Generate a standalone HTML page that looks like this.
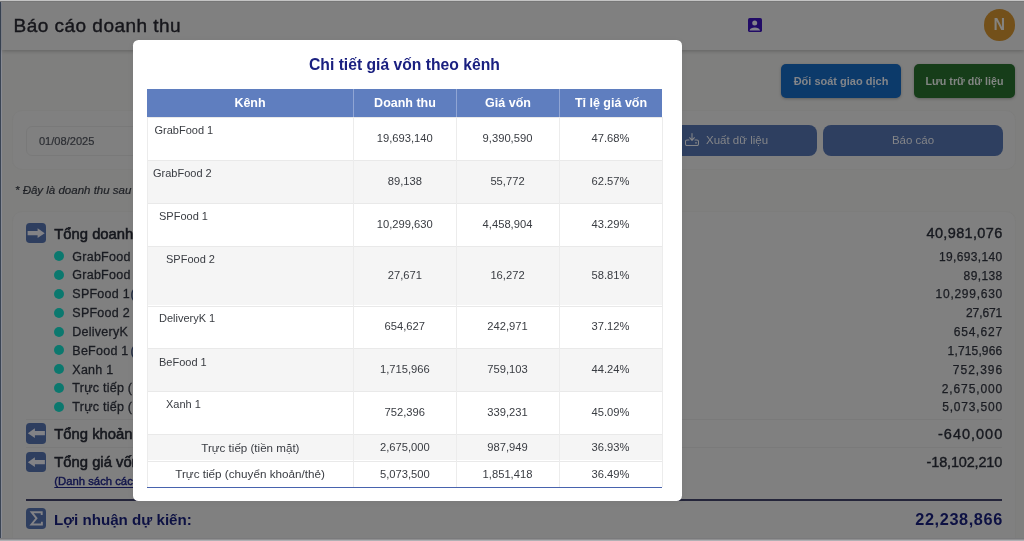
<!DOCTYPE html>
<html lang="vi">
<head>
<meta charset="utf-8">
<title>Báo cáo doanh thu</title>
<style>
*{box-sizing:border-box;margin:0;padding:0}
html,body{width:1024px;height:541px;overflow:hidden}
body{position:relative;background:#7f7f7e;font-family:"Liberation Sans",sans-serif;color:#1c1e24}
.abs{position:absolute}
.t{position:absolute;white-space:nowrap;line-height:1}
#root{position:absolute;left:0;top:0;width:1024px;height:541px;will-change:transform}
/* ---------- dimmed page behind the modal ---------- */
#topstrip{left:0;top:0;width:1024px;height:2px;background:linear-gradient(180deg,#c4c4c4 0,#c4c4c4 1px,#777 1px);z-index:3}
#leftstrip{left:0;top:1px;width:2px;height:538px;background:linear-gradient(90deg,#3a4454 0,#3a4454 1px,#888b94 1px)}
#botstrip{left:0;top:538px;width:1024px;height:3px;background:linear-gradient(180deg,#7a7a7c 0,#7a7a7c 1px,#909092 1px,#909092 2px,#b0b0b4 2px)}
#hdr{left:2px;top:1px;width:1022px;height:49.4px;background:#808080;box-shadow:0 1px 4px rgba(0,0,0,.24)}
#hdr-title{left:13.6px;top:16px;font-size:19px;letter-spacing:.47px;color:#16161b;-webkit-text-stroke:.4px #16161b}
#hdr-ico{left:748.2px;top:18.4px;width:14px;height:14.1px}
#avatar{left:983.6px;top:9.4px;width:31.4px;height:31.5px;border-radius:50%;background:#73501a;color:#85837f;font-weight:bold;font-size:16px;text-align:center;line-height:32.6px}
.btn{position:absolute;text-align:center;white-space:nowrap}
#btn-ds{left:781px;top:64px;width:120px;height:34px;line-height:34px;border-radius:5px;background:#0c3a6a;color:#838589;font-weight:bold;font-size:11px;box-shadow:0 1px 3px rgba(0,0,0,.25)}
#btn-lt{left:914px;top:64px;width:101px;height:34px;line-height:34px;border-radius:5px;background:#163d19;color:#838684;font-weight:bold;font-size:10.7px;box-shadow:0 1px 3px rgba(0,0,0,.25)}
#fcard{left:12px;top:110px;width:1003.5px;height:60px;border-radius:10px;background:#808080;border:1px solid #7d7d7c}
#date{left:25.5px;top:125.5px;width:140px;height:30px;border-radius:6px;border:1px solid #797979;background:#808080}
#date-t{left:38.9px;top:135.7px;font-size:11.1px;color:#2c2e33;-webkit-text-stroke:.2px #2c2e33}
#btn-xuat{left:660px;top:125px;width:157px;height:30.5px;line-height:30.5px;border-radius:8px;background:#2e3f60;color:#848588;font-size:11.5px}
#btn-bc{left:823px;top:125px;width:180px;height:30.5px;line-height:30.5px;border-radius:8px;background:#2e3f60;color:#848588;font-size:11.5px}
#note{left:15px;top:185.3px;font-size:11.5px;font-style:italic;color:#1e2025;-webkit-text-stroke:.2px #1e2025}
#scard{left:12px;top:210.5px;width:1003.5px;height:340px;border-radius:10px;background:#808080;border:1px solid #7d7d7c}
.ico{position:absolute;left:25.6px;width:20.5px;height:20.3px;border-radius:3.8px;background:#2e3e5f}
.ico svg{position:absolute;left:0;top:0;width:20.5px;height:20.3px}
.sec{font-size:14.8px;color:#15171d;left:54.3px;-webkit-text-stroke:.55px #15171d}
.dot{position:absolute;left:54px;width:10px;height:10px;border-radius:50%;background:#0b786e}
.li{left:72.3px;font-size:12.5px;letter-spacing:.25px;color:#1a1c22;-webkit-text-stroke:.3px #1a1c22}
.val{right:21.5px;font-size:12px;letter-spacing:.33px;color:#1a1c22;text-align:right;-webkit-text-stroke:.25px #1a1c22}
.bval{right:21.5px;font-size:14.5px;letter-spacing:.3px;color:#17191f;text-align:right;-webkit-text-stroke:.38px #17191f}
#link{left:54.3px;top:476.2px;font-size:11.3px;color:#11144a;text-decoration:underline;text-decoration-skip-ink:none;text-decoration-thickness:1px;text-underline-offset:1.5px;-webkit-text-stroke:.4px #11144a}
#sep{left:26px;top:499px;width:976px;height:1.8px;background:#24253a}
#profit{left:54px;top:511.9px;font-size:15.15px;font-weight:bold;color:#0d1143}
#profit-v{right:21.2px;top:511.4px;font-size:16.3px;letter-spacing:.6px;font-weight:bold;color:#0d1143}
.fs{position:absolute;left:26px;width:976px;height:1px;background:#7a7a7a}
/* ---------- modal ---------- */
#modal{left:133.3px;top:39.5px;width:548.6px;height:461.1px;border-radius:5.5px;background:#fff;box-shadow:0 1px 6px rgba(0,0,0,.06)}
#m-title{left:309px;top:56.7px;font-size:15.7px;font-weight:bold;color:#1a2080}
#thead{left:146.8px;top:88.7px;width:515.7px;height:27.9px;background:#5f7ebf}
.th{position:absolute;top:97px;font-size:12.5px;font-weight:bold;color:#fff;line-height:1;white-space:nowrap;transform:translateX(-50%)}
.vsep-h{position:absolute;top:88.7px;width:1px;height:27.9px;background:#90a5d4}
.row{position:absolute;left:146.8px;width:515.7px;border-top:1px solid #e9e9e9;background:#fff}
.row.alt{background:#f5f5f5}
.vsep{position:absolute;top:116.6px;width:1px;height:370px;background:#ececec}
.nm{position:absolute;font-size:11px;color:#393c42;line-height:1;white-space:nowrap}
.nc{position:absolute;font-size:11.2px;color:#393c42;line-height:1;white-space:nowrap;transform:translateX(-50%)}
#tbot{left:146.8px;top:486.8px;width:515.7px;height:1.3px;background:#4863ae}
</style>
</head>
<body>
<div id="root">
<!-- page chrome -->
<div class="abs" id="topstrip"></div>
<div class="abs" id="leftstrip"></div>
<div class="abs" id="hdr"></div>
<div class="t" id="hdr-title">Báo cáo doanh thu</div>
<svg class="abs" id="hdr-ico" viewBox="0 0 14 14"><rect x="0" y="0" width="14" height="14" rx="1.8" fill="#210b66"/><circle cx="6.7" cy="5" r="2.5" fill="#84848a"/><path d="M1.5 12.4c.6-2 2.6-2.9 5.3-2.9s4.7.9 5.3 2.9z" fill="#84848a"/></svg>
<div class="abs" id="avatar">N</div>

<div class="btn" id="btn-ds">Đối soát giao dịch</div>
<div class="btn" id="btn-lt">Lưu trữ dữ liệu</div>

<div class="abs" id="fcard"></div>
<div class="abs" id="date"></div>
<div class="t" id="date-t">01/08/2025</div>
<div class="btn" id="btn-xuat"><svg width="14" height="13" viewBox="0 0 14 13" style="position:absolute;left:25.1px;top:8.3px" fill="none" stroke="#848588" stroke-width="1.05" stroke-linecap="round" stroke-linejoin="round"><path d="M7 .6v6.8M4.6 4.7L7 7.4l2.4-2.7"/><path d="M4 7H2A1.5 1.5 0 0 0 .5 8.500V11A1.5 1.5 0 0 0 2 12.500h10a1.500 1.500 0 0 0 1.500-1.500V8.500A1.500 1.500 0 0 0 12 7h-2"/><circle cx="11" cy="9.800" r=".35"/></svg><span style="position:absolute;left:46px">Xuất dữ liệu</span></div>
<div class="btn" id="btn-bc">Báo cáo</div>

<div class="t" id="note">* Đây là doanh thu sau khi trừ chiết khấu</div>

<div class="abs" id="scard"></div>

<!-- section 1 -->
<div class="ico" style="top:223px"><svg viewBox="0 0 20.5 20.3"><path d="M1.6 8.05h10V5.2l7.1 4.95-7.1 4.95v-2.85h-10z" fill="#828286"/></svg></div>
<div class="t sec" id="sec1" style="top:226.5px">Tổng doanh thu</div>
<div class="t bval" id="v0" style="top:226.4px;letter-spacing:0.34px;right:21.46px">40,981,076</div>

<div class="dot" style="top:251.2px"></div><div class="t li" style="top:250.5px">GrabFood 1 (</div><div class="t val" style="top:250.7px;letter-spacing:0.36px;right:21.44px">19,693,140</div>
<div class="dot" style="top:270.0px"></div><div class="t li" style="top:269.3px">GrabFood 2 (</div><div class="t val" style="top:269.6px;letter-spacing:0.38px;right:21.42px">89,138</div>
<div class="dot" style="top:288.9px"></div><div class="t li" style="top:288.2px">SPFood 1</div><div class="t li" style="top:288.2px;left:130.4px;color:#17284d">(</div><div class="t val" style="top:288.4px;letter-spacing:0.73px;right:21.07px">10,299,630</div>
<div class="dot" style="top:307.7px"></div><div class="t li" style="top:307.0px">SPFood 2 (</div><div class="t val" style="top:307.2px;letter-spacing:-0.10px;right:21.90px">27,671</div>
<div class="dot" style="top:326.5px"></div><div class="t li" style="top:325.8px">DeliveryK</div><div class="t val" style="top:326.1px;letter-spacing:0.85px;right:20.95px">654,627</div>
<div class="dot" style="top:345.4px"></div><div class="t li" style="top:344.6px">BeFood 1</div><div class="t li" style="top:344.6px;left:130.4px;color:#17284d">(</div><div class="t val" style="top:344.9px;letter-spacing:0.15px;right:21.65px">1,715,966</div>
<div class="dot" style="top:364.2px"></div><div class="t li" style="top:363.5px">Xanh 1</div><div class="t val" style="top:363.7px;letter-spacing:1.00px;right:20.80px">752,396</div>
<div class="dot" style="top:383.0px"></div><div class="t li" style="top:382.3px">Trực tiếp (</div><div class="t val" style="top:382.6px;letter-spacing:0.88px;right:20.92px">2,675,000</div>
<div class="dot" style="top:401.8px"></div><div class="t li" style="top:401.1px">Trực tiếp (</div><div class="t val" style="top:401.4px;letter-spacing:0.83px;right:20.97px">5,073,500</div>

<div class="fs" style="top:419.2px"></div>
<div class="ico" style="top:423.3px"><svg viewBox="0 0 20.5 20.3"><path d="M18.9 8.05h-10V5.2L1.8 10.15l7.1 4.95v-2.85h10z" fill="#828286"/></svg></div>
<div class="t sec" style="top:426.8px">Tổng khoản giảm trừ</div>
<div class="t bval" style="top:427px;letter-spacing:0.99px;right:20.81px">-640,000</div>

<div class="fs" style="top:447.2px"></div>
<div class="ico" style="top:451.6px"><svg viewBox="0 0 20.5 20.3"><path d="M18.9 8.05h-10V5.2L1.8 10.15l7.1 4.95v-2.85h10z" fill="#828286"/></svg></div>
<div class="t sec" style="top:454.9px">Tổng giá vốn</div>
<div class="t bval" style="top:455.4px;letter-spacing:-0.18px;right:21.98px">-18,102,210</div>
<div class="t" id="link">(Danh sách các món chưa có giá vốn)</div>

<div class="abs" id="sep"></div>
<div class="ico" style="top:508.3px;width:20.8px;height:20.8px;background:#2e3e5f"><svg viewBox="0 0 20.5 20.3"><path d="M15.7 6.9V4.2H5.6l4.9 6.1-5.1 6.2h10.5v-2.8" fill="none" stroke="#828286" stroke-width="1.9" stroke-linejoin="miter"/></svg></div>
<div class="t" id="profit">Lợi nhuận dự kiến:</div>
<div class="t" id="profit-v">22,238,866</div>
<div class="abs" id="botstrip"></div>

<!-- modal -->
<div class="abs" id="modal"></div>
<div class="t" id="m-title">Chi tiết giá vốn theo kênh</div>
<div class="abs" id="thead"></div>
<div class="vsep-h" style="left:353px"></div><div class="vsep-h" style="left:456px"></div><div class="vsep-h" style="left:559px"></div>
<div class="th" style="left:250px">Kênh</div>
<div class="th" style="left:405px">Doanh thu</div>
<div class="th" style="left:508px">Giá vốn</div>
<div class="th" style="left:611px">Tỉ lệ giá vốn</div>

<div class="row" style="top:116.6px;height:43.7px"></div>
<div class="row alt" style="top:160.3px;height:43.1px"></div>
<div class="row" style="top:203.4px;height:43.0px"></div>
<div class="row alt" style="top:246.4px;height:59.1px"></div>
<div class="row" style="top:305.5px;height:42.8px"></div>
<div class="row alt" style="top:348.3px;height:43.0px"></div>
<div class="row" style="top:391.3px;height:43.0px"></div>
<div class="row alt" style="top:434.3px;height:26.2px"></div>
<div class="row" style="top:460.5px;height:26.4px"></div>
<div class="vsep" style="left:353px"></div><div class="vsep" style="left:456px"></div><div class="vsep" style="left:559px"></div>
<div class="vsep" style="left:146.8px"></div><div class="vsep" style="left:661.7px"></div>
<div class="abs" id="tbot"></div>

<div class="nm" style="left:154.5px;top:125px">GrabFood 1</div>
<div class="nm" style="left:153px;top:167.5px">GrabFood 2</div>
<div class="nm" style="left:159px;top:211px">SPFood 1</div>
<div class="nm" style="left:166px;top:254px">SPFood 2</div>
<div class="nm" style="left:159px;top:313px">DeliveryK 1</div>
<div class="nm" style="left:159px;top:356.5px">BeFood 1</div>
<div class="nm" style="left:166px;top:399px">Xanh 1</div>
<div class="nc" style="left:250.4px;top:441.6px;font-size:11.6px">Trực tiếp (tiền mặt)</div>
<div class="nc" style="left:250.1px;top:468.2px;font-size:11.7px">Trực tiếp (chuyển khoản/thẻ)</div>

<div class="nc" style="left:404.8px;top:133.4px">19,693,140</div><div class="nc" style="left:507.5px;top:133.4px">9,390,590</div><div class="nc" style="left:610.5px;top:133.4px">47.68%</div>
<div class="nc" style="left:404.8px;top:176.2px">89,138</div><div class="nc" style="left:507.5px;top:176.2px">55,772</div><div class="nc" style="left:610.5px;top:176.2px">62.57%</div>
<div class="nc" style="left:404.8px;top:219.2px">10,299,630</div><div class="nc" style="left:507.5px;top:219.2px">4,458,904</div><div class="nc" style="left:610.5px;top:219.2px">43.29%</div>
<div class="nc" style="left:404.8px;top:270.4px">27,671</div><div class="nc" style="left:507.5px;top:270.4px">16,272</div><div class="nc" style="left:610.5px;top:270.4px">58.81%</div>
<div class="nc" style="left:404.8px;top:321.0px">654,627</div><div class="nc" style="left:507.5px;top:321.0px">242,971</div><div class="nc" style="left:610.5px;top:321.0px">37.12%</div>
<div class="nc" style="left:404.8px;top:364.2px">1,715,966</div><div class="nc" style="left:507.5px;top:364.2px">759,103</div><div class="nc" style="left:610.5px;top:364.2px">44.24%</div>
<div class="nc" style="left:404.8px;top:407.4px">752,396</div><div class="nc" style="left:507.5px;top:407.4px">339,231</div><div class="nc" style="left:610.5px;top:407.4px">45.09%</div>
<div class="nc" style="left:404.8px;top:441.6px">2,675,000</div><div class="nc" style="left:507.5px;top:441.6px">987,949</div><div class="nc" style="left:610.5px;top:441.6px">36.93%</div>
<div class="nc" style="left:404.8px;top:468.8px">5,073,500</div><div class="nc" style="left:507.5px;top:468.8px">1,851,418</div><div class="nc" style="left:610.5px;top:468.8px">36.49%</div>
</div>
</body>
</html>
